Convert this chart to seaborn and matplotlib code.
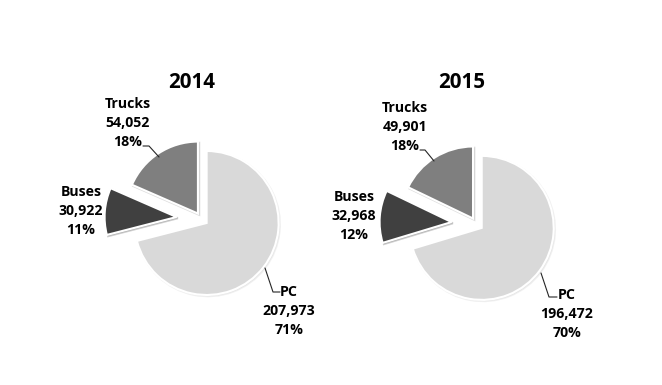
import matplotlib
matplotlib.use("Agg")
import matplotlib.pyplot as plt
import seaborn as sns

# ---- data ----
categories = ["PC", "Buses", "Trucks"]
years = ["2014", "2015"]
values_2014 = [207973, 30922, 54052]
values_2015 = [196472, 32968, 49901]

sns.set_theme(style="white")
plt.rcParams["font.family"] = ["Open Sans", "DejaVu Sans"]
colors = sns.color_palette(["#d9d9d9", "#404040", "#7f7f7f"])

W, H = 662, 385
fig = plt.figure(figsize=(W / 100, H / 100), dpi=100)
ax = fig.add_axes([0, 0, 1, 1])
ax.set_xlim(0, W)
ax.set_ylim(0, H)
ax.set_aspect("equal")
ax.axis("off")


def Y(y):
    return H - y


# layout per chart (pixel coordinates, screen y downward)
layouts = [
    dict(center=(201.5, 219), title=(191.5, 82),
         label_pos={"Trucks": (128, 123), "Buses": (81, 211), "PC": (289, 311)},
         leaders={"Trucks": [(143, 146), (149, 146), (159, 157)],
                  "PC": [(280, 292), (273, 292), (265, 268)]}),
    dict(center=(476.5, 224), title=(462, 83),
         label_pos={"Trucks": (405, 127), "Buses": (354, 216), "PC": (567, 314)},
         leaders={"Trucks": [(420, 150), (425, 150), (434, 161)],
                  "PC": [(557, 297), (549, 297), (541, 273)]}),
]

radius = 72
explode = [6.5, 25, 6.5]

for year, vals, lay in zip(years, [values_2014, values_2015], layouts):
    cx, cy = lay["center"]
    ax.pie(vals, colors=colors, startangle=90, counterclock=False,
           center=(cx, Y(cy)), radius=radius, explode=explode,
           wedgeprops=dict(edgecolor="white", linewidth=1.5),
           shadow=dict(ox=0.9, oy=-0.9, shade=0.1, alpha=0.25),
           frame=True)
    tx, ty = lay["title"]
    ax.text(tx, Y(ty), year, ha="center", va="center", fontsize=14.8,
            fontweight="bold", color="#000000")
    total = sum(vals)
    for cat, v in zip(categories, vals):
        lx, ly = lay["label_pos"][cat]
        txt = f"{cat}\n{v:,}\n{round(v / total * 100):.0f}%"
        ax.text(lx, Y(ly), txt, ha="center", va="center", fontsize=10.2,
                fontweight="bold", color="#000000", linespacing=1.42)
    for cat, pts in lay["leaders"].items():
        xs = [p[0] for p in pts]
        ys = [Y(p[1]) for p in pts]
        ax.plot(xs, ys, color="#262626", linewidth=0.8)

ax.set_xlim(0, W)
ax.set_ylim(0, H)
ax.axis("off")
fig.savefig("out.png", dpi=100, facecolor="white")
